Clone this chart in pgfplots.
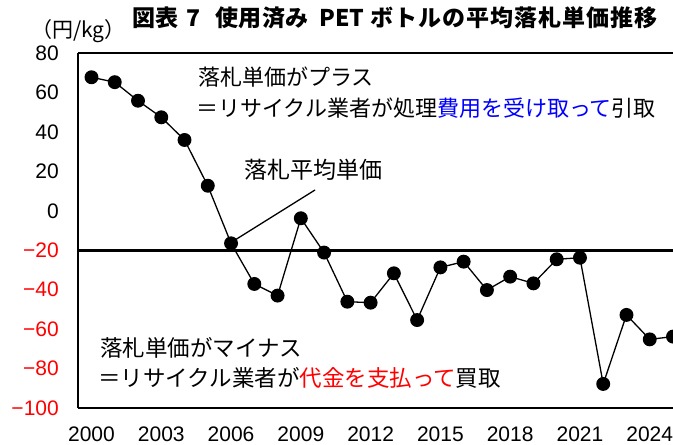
\documentclass[border=0pt]{standalone}
\usepackage{pgfplots}
\pgfplotsset{compat=1.18}
\usepackage{fontspec}
\setmainfont{Liberation Sans}
\newfontfamily\jp{Noto Sans CJK JP}
\definecolor{jblue}{RGB}{0,0,255}
\definecolor{jred}{RGB}{255,0,0}
\pgfplotstableread{
year val
2000 67.7
2001 65.2
2002 55.8
2003 47.4
2004 35.9
2005 12.7
2006 -16.5
2007 -37.1
2008 -43.0
2009 -3.8
2010 -21.2
2011 -46.1
2012 -46.6
2013 -31.7
2014 -55.4
2015 -28.7
2016 -25.8
2017 -40.2
2018 -33.4
2019 -36.8
2020 -24.6
2021 -23.8
2022 -87.8
2023 -52.8
2024 -65.2
2025 -63.8
}\pricedata
\begin{document}
\begin{tikzpicture}
\begin{axis}[name=ax, at={(0,0)}, anchor=south west,
  scale only axis, width=595pt, height=355pt,
  xmin=1999.42, xmax=2025.0, ymin=-100, ymax=80,
  axis x line=box, axis y line=left,
  every outer x axis line/.append style={-},
  every outer y axis line/.append style={-},
  axis line style={line width=2pt,-},
  major tick length=0pt,
  xtick={2000,2003,...,2024},
  ytick={-100,-80,...,80},
  yticklabels={{\color{jred}−100},{\color{jred}−80},{\color{jred}−60},{\color{jred}−40},{\color{jred}−20},0,20,40,60,80},
  /pgf/number format/assume math mode=true,
  /pgf/number format/1000 sep={},
  tick label style={font=\fontsize{21}{25}\selectfont},
  xticklabel style={anchor=center, inner sep=0pt, yshift=-26pt},
  yticklabel style={anchor=east, inner sep=0pt, xshift=-19pt},
  clip marker paths=true,
]
\addplot[line width=3pt, black] coordinates {(1999.3,-20) (2025.2,-20)};
\addplot[black, line width=1.3pt, mark=*, mark size=6.3pt, mark options={fill=black}] table[x=year,y=val] {\pricedata};
\end{axis}
\coordinate (O) at ([xshift=-78pt,yshift=-37pt]ax.south west);
\tikzset{tt/.style={anchor=west, inner sep=0pt, font=\jp\bfseries\fontsize{23}{27}\selectfont}}
\node[tt] at ([shift={(132pt,427pt)}]O) {図表};
\node[tt] at ([shift={(186pt,427pt)}]O) {7};
\node[tt] at ([shift={(215pt,427pt)}]O) {\addfontfeature{LetterSpace=2.5}使用済み};
\node[tt] at ([shift={(319pt,427pt)}]O) {PET};
\node[tt] at ([shift={(370pt,427pt)}]O) {\addfontfeature{LetterSpace=4.5}ボトルの平均落札単価推移};
\node[anchor=west, inner sep=0pt, font=\jp\fontsize{21}{25}\selectfont] at ([shift={(31pt,414pt)}]O) {（円/kg）};
\node[anchor=west, inner sep=0pt, font=\jp\fontsize{22}{26}\selectfont] at ([shift={(198pt,368pt)}]O) {落札単価がプラス};
\node[anchor=west, inner sep=0pt, font=\jp\fontsize{22}{26}\selectfont] at ([shift={(196pt,337pt)}]O) {＝リサイクル業者が処理\textcolor{jblue}{費用を受け取って}引取};
\node[anchor=west, inner sep=0pt, font=\jp\fontsize{23}{27}\selectfont] at ([shift={(244pt,275pt)}]O) {落札平均単価};
\draw[line width=1.3pt] ([shift={(235pt,205pt)}]O) -- ([shift={(315pt,255pt)}]O);
\node[anchor=west, inner sep=0pt, font=\jp\fontsize{22.5}{26}\selectfont] at ([shift={(100pt,97pt)}]O) {落札単価がマイナス};
\node[anchor=west, inner sep=0pt, font=\jp\fontsize{22.5}{26}\selectfont] at ([shift={(98pt,67pt)}]O) {＝リサイクル業者が\textcolor{jred}{代金を支払って}買取};
\pgfresetboundingbox
\useasboundingbox (O) rectangle ([shift={(673pt,445pt)}]O);
\end{tikzpicture}
\end{document}
